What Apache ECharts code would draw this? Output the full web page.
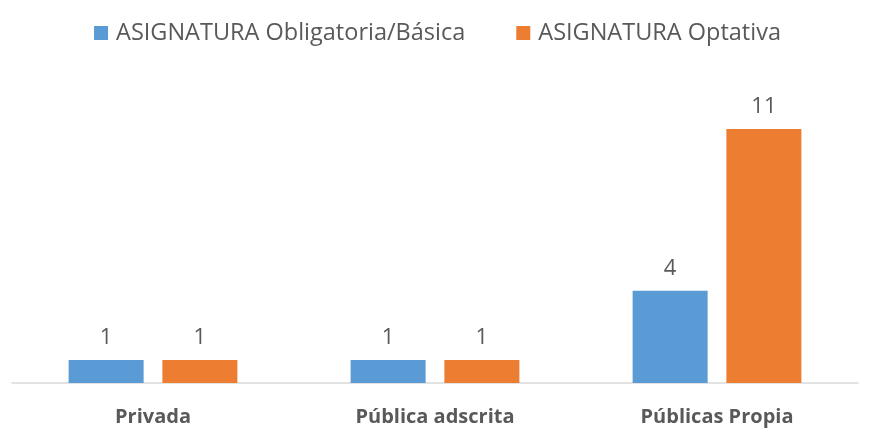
<!DOCTYPE html>
<html>
<head>
<meta charset="utf-8">
<script src="https://cdn.jsdelivr.net/npm/echarts@6/dist/echarts.min.js"></script>
<style>
  html, body { margin: 0; padding: 0; background: #fff; }
  #chart { width: 875px; height: 428px; }
</style>
</head>
<body>
<div id="chart"></div>
<script>
var categories = ['Privada', 'Pública adscrita', 'Públicas Propia'];
var seriesNames = ['ASIGNATURA Obligatoria/Básica', 'ASIGNATURA Optativa'];
var basicaValues = [1, 1, 4];
var optativaValues = [1, 1, 11];

var textColor = '#595959';
var fontName = 'Open Sans';

var chart = echarts.init(document.getElementById('chart'));

function barLabel() {
  return {
    show: true,
    position: 'top',
    distance: 11,
    color: textColor,
    fontFamily: fontName,
    fontSize: 22
  };
}

var option = {
  animation: false,
  color: ['#5B9BD5', '#ED7D31'],
  legend: {
    top: 16,
    left: 'center',
    itemWidth: 14,
    itemHeight: 14,
    itemGap: 51,
    icon: 'rect',
    textStyle: {
      color: textColor,
      fontFamily: fontName,
      fontSize: 23.5,
      padding: [0, 0, 0, 3]
    },
    data: seriesNames
  },
  grid: {
    left: 12,
    right: 17,
    top: 106,
    bottom: 45,
    containLabel: false
  },
  xAxis: {
    type: 'category',
    data: categories,
    axisLine: { lineStyle: { color: '#D9D9D9', width: 1.5 } },
    axisTick: { show: false },
    axisLabel: {
      margin: 24,
      color: textColor,
      fontFamily: fontName,
      fontSize: 20,
      fontWeight: 'bold'
    }
  },
  yAxis: {
    type: 'value',
    min: 0,
    max: 12,
    show: false,
    splitLine: { show: false }
  },
  series: [
    {
      name: seriesNames[0],
      type: 'bar',
      barWidth: 75,
      barGap: '25%',
      data: basicaValues,
      label: barLabel()
    },
    {
      name: seriesNames[1],
      type: 'bar',
      barWidth: 75,
      barGap: '25%',
      data: optativaValues,
      label: barLabel()
    }
  ]
};

chart.setOption(option);
</script>
</body>
</html>
